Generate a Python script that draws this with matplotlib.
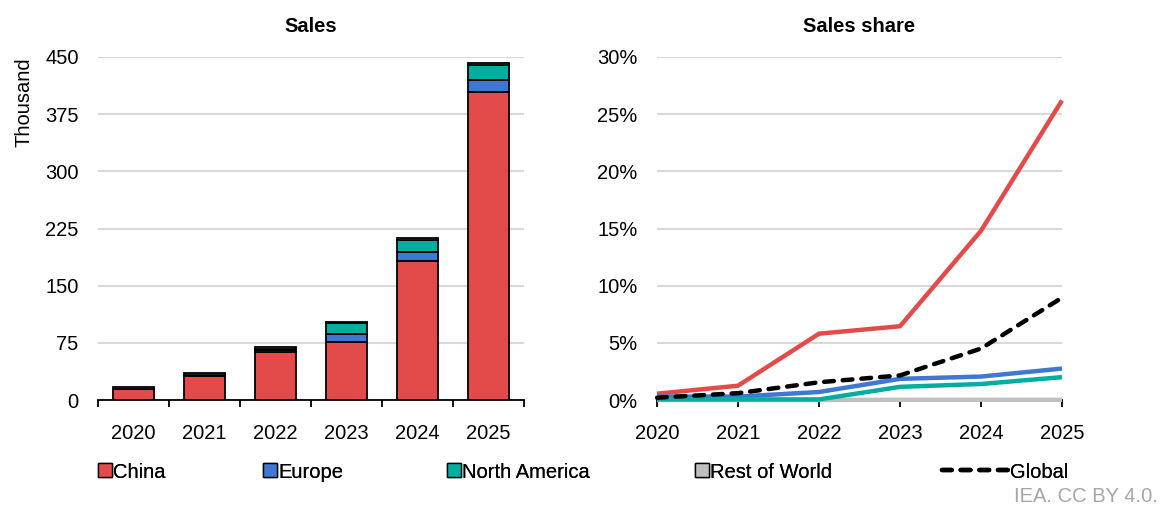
import matplotlib
matplotlib.use("Agg")
import matplotlib.pyplot as plt
from matplotlib.lines import Line2D
import numpy as np

plt.rcParams['font.family'] = ['Liberation Sans', 'DejaVu Sans']

years = ["2020", "2021", "2022", "2023", "2024", "2025"]
year_nums = [2020, 2021, 2022, 2023, 2024, 2025]

# Sales (thousand)
sales_china = [14, 32, 63, 76, 183, 404]
sales_europe = [0.5, 0.8, 3, 11, 11, 16]
sales_na = [0.2, 0.3, 1.5, 14, 16, 20]
sales_row = [2, 2.5, 2, 1.5, 2.5, 2.5]

# Sales share (%)
share_china = [0.55, 1.25, 5.8, 6.45, 14.8, 26.2]
share_europe = [0.3, 0.3, 0.7, 1.85, 2.05, 2.75]
share_na = [0.05, 0.05, 0.05, 1.15, 1.4, 2.0]
share_row = [0.0, 0.0, 0.0, 0.02, 0.02, 0.02]
share_global = [0.2, 0.6, 1.55, 2.15, 4.5, 8.95]

series_names = ["China", "Europe", "North America", "Rest of World"]
colors = ["#e34b4a", "#3e78d2", "#00aea0", "#bfbfbf"]
grid_color = "#d9d9d9"
FS = 14.5

fig = plt.figure(figsize=(11.63, 5.09), dpi=100)
axL = fig.add_axes([98/1163, 1-400/509, (524-98)/1163, (400-57)/509])
axR = fig.add_axes([657/1163, 1-400/509, (1062-657)/1163, (400-57)/509])

# ---- Left: stacked bars
x = np.arange(len(years))
bottom = np.zeros(len(years))
for vals, c in zip([sales_china, sales_europe, sales_na, sales_row], colors):
    axL.bar(x, vals, bottom=bottom, width=0.58, color=c, edgecolor="black",
            linewidth=1.3, zorder=3)
    bottom += np.array(vals)
axL.set_xlim(-0.5, len(years)-0.5)
axL.set_ylim(0, 450)
axL.set_yticks(np.arange(0, 451, 75))
axL.set_xticks(x)
axL.set_xticklabels(years)
axL.set_xticks(np.arange(-0.5, len(years), 1), minor=True)
axL.tick_params(axis='x', which='major', length=0, pad=17, labelsize=FS)
axL.tick_params(axis='x', which='minor', length=5, width=1.3, direction='out', color='black')
axL.tick_params(axis='y', length=0, pad=14, labelsize=FS)
axL.yaxis.grid(True, color=grid_color, linewidth=1.5, zorder=0)
axL.set_axisbelow(True)
for s in ['top', 'right', 'left']:
    axL.spines[s].set_visible(False)
axL.spines['bottom'].set_linewidth(1.3)
axL.set_ylabel("Thousand", fontsize=FS, labelpad=8, loc='top')
axL.set_title("Sales", fontsize=FS, fontweight='bold', pad=18)

# ---- Right: share lines
lw = 3.2
dash = (2.2, 2.0)
axR.plot(year_nums, share_china, color=colors[0], lw=lw, zorder=3, clip_on=False, solid_capstyle='butt')
axR.plot(year_nums, share_europe, color=colors[1], lw=lw, zorder=3, clip_on=False, solid_capstyle='butt')
axR.plot(year_nums, share_row, color=colors[3], lw=lw, zorder=3, clip_on=False, solid_capstyle='butt')
axR.plot(year_nums, share_na, color=colors[2], lw=lw, zorder=3, clip_on=False, solid_capstyle='butt')
axR.plot(year_nums, share_global, color='black', lw=lw, zorder=4, clip_on=False,
         dashes=dash, dash_capstyle='round')
axR.set_xlim(2020, 2025)
axR.set_ylim(0, 30)
axR.set_yticks(np.arange(0, 31, 5))
axR.set_yticklabels([f"{v}%" for v in range(0, 31, 5)])
axR.set_xticks(year_nums)
axR.set_xticklabels(years)
axR.tick_params(axis='x', length=5, width=1.3, direction='out', pad=12, labelsize=FS)
axR.tick_params(axis='y', length=0, pad=14, labelsize=FS)
axR.yaxis.grid(True, color=grid_color, linewidth=1.5, zorder=0)
axR.set_axisbelow(True)
for s in ['top', 'right', 'left']:
    axR.spines[s].set_visible(False)
axR.spines['bottom'].set_linewidth(1.3)
axR.spines['bottom'].set_zorder(1)
axR.set_title("Sales share", fontsize=FS, fontweight='bold', pad=18)

# ---- Legend
leg_x = [99, 264, 448, 696, 942]
handles = [Line2D([0], [0], marker='s', linestyle='none', markersize=10,
                  markerfacecolor=c, markeredgecolor='black', markeredgewidth=1.0)
           for c in colors]
handles.append(Line2D([0], [0], color='black', lw=lw, dashes=dash, dash_capstyle='round'))
labels = series_names + ["Global"]
for i, (h, l) in enumerate(zip(handles, labels)):
    hl = 3.3 if l == "Global" else 0.6
    leg = fig.legend([h], [l], loc='center left', bbox_to_anchor=(leg_x[i]/1163, 1-472/509),
                     frameon=False, fontsize=FS, handlelength=hl, handletextpad=0.1,
                     borderpad=0, borderaxespad=0)
    fig.add_artist(leg)

fig.text(1158/1163, 1-497/509, "IEA. CC BY 4.0.", ha='right', va='center',
         fontsize=FS, color='#a6a6a6')

fig.savefig("out.png", dpi=100)
